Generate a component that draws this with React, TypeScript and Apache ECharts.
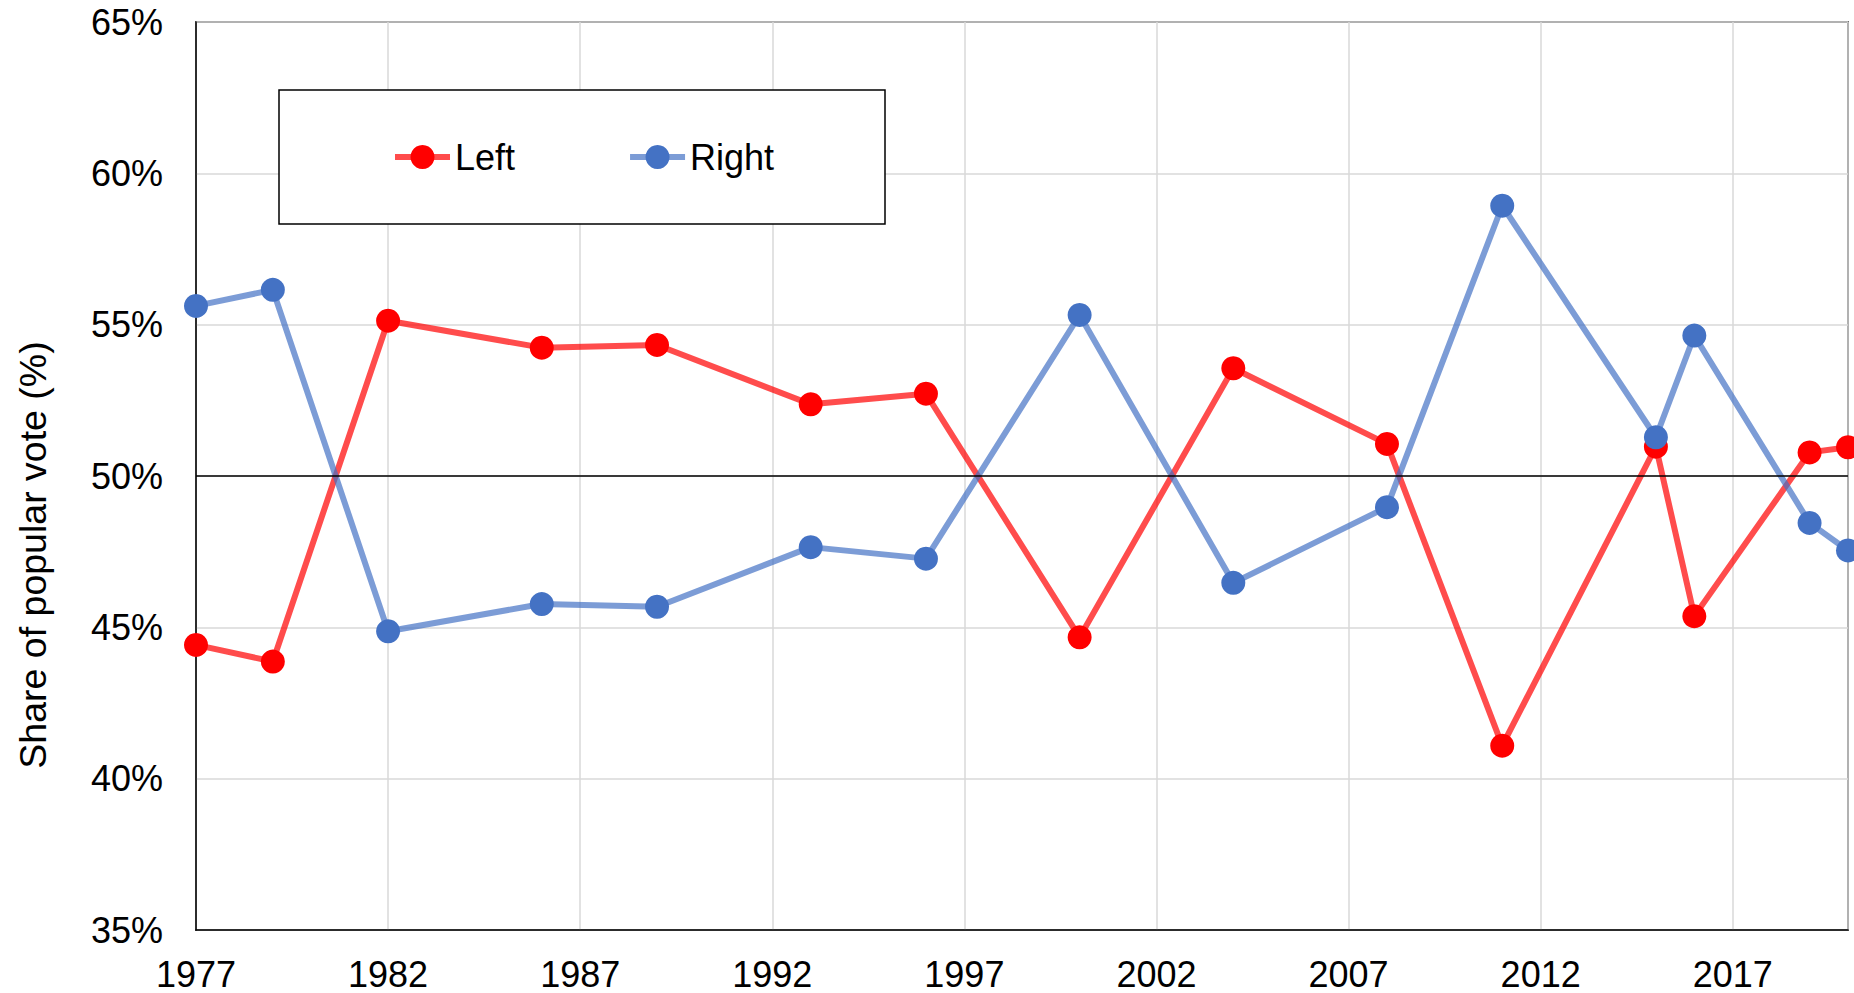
import React, { useEffect, useRef } from "react";
import * as echarts from "echarts";

const years = [1977, 1979, 1982, 1986, 1989, 1993, 1996, 2000, 2004, 2008, 2011, 2015, 2016, 2019, 2020];
const leftShare = [44.42, 43.87, 55.13, 54.24, 54.33, 52.37, 52.72, 44.67, 53.56, 51.06, 41.09, 50.97, 45.37, 50.78, 50.95];
const rightShare = [55.62, 56.15, 44.87, 45.77, 45.68, 47.65, 47.27, 55.32, 46.47, 48.97, 58.93, 51.28, 54.64, 48.45, 47.54];
const seriesNames = ["Left", "Right"];
const FIRST_YEAR = 1977;
const LAST_YEAR = 2020;
const YEAR_STEP = 5;
const Y_MIN = 35;
const Y_MAX = 65;
const Y_STEP = 5;
const yTitle = "Share of popular vote (%)";

const FONT = 'Arial, "Liberation Sans", sans-serif';

export default function App() {
  const ref = useRef<HTMLDivElement>(null);
  useEffect(() => {
    if (!ref.current) return;
    const chart = echarts.init(ref.current, null, { renderer: "svg" });
    const toPoint = (arr: number[]) => years.map((y, i) => [y - FIRST_YEAR, arr[i]]);
    chart.setOption({
      animation: false,
      backgroundColor: "#ffffff",
      textStyle: { fontFamily: FONT },
      grid: {
        left: 196,
        right: 6,
        top: 22,
        bottom: 63,
        show: true,
        borderColor: "#000000",
        borderWidth: 1.5,
        containLabel: false,
        outerBoundsMode: "none",
      },
      xAxis: {
        type: "value",
        min: 0,
        max: LAST_YEAR - FIRST_YEAR,
        interval: YEAR_STEP,
        axisLine: { show: true, lineStyle: { color: "#000000", width: 1.5 } },
        axisTick: { show: false },
        axisLabel: {
          fontSize: 36,
          fontFamily: FONT,
          color: "#000000",
          margin: 26,
          formatter: (v: number) => (v % YEAR_STEP === 0 ? String(v + FIRST_YEAR) : ""),
        },
        splitLine: { show: true, lineStyle: { color: "#d9d9d9", width: 1.5 } },
      },
      yAxis: {
        type: "value",
        min: Y_MIN,
        max: Y_MAX,
        interval: Y_STEP,
        axisLine: { show: true, lineStyle: { color: "#000000", width: 1.5 } },
        axisTick: { show: false },
        axisLabel: {
          fontSize: 36,
          fontFamily: FONT,
          color: "#000000",
          margin: 33,
          formatter: "{value}%",
        },
        splitLine: { show: true, lineStyle: { color: "#d9d9d9", width: 1.5 } },
      },
      legend: {
        data: seriesNames,
        left: 392,
        top: 139,
        padding: 0,
        itemWidth: 55,
        itemHeight: 30,
        itemGap: 112,
        lineStyle: { width: 6 },
        textStyle: { fontSize: 36, fontFamily: FONT, color: "#000000" },
        z: 6,
      },
      graphic: [
        {
          type: "rect",
          z: 5,
          shape: { x: 279, y: 90, width: 606, height: 134 },
          style: { fill: "#ffffff", stroke: "#000000", lineWidth: 1.5 },
        },
        {
          type: "text",
          x: 33,
          y: 555,
          rotation: Math.PI / 2,
          style: {
            text: yTitle,
            font: `37.5px ${FONT}`,
            fill: "#000000",
            align: "center",
            verticalAlign: "middle",
          },
        },
      ],
      series: [
        {
          name: seriesNames[0],
          type: "line",
          data: toPoint(leftShare),
          symbol: "circle",
          symbolSize: 24,
          clip: false,
          itemStyle: { color: "#FF0000" },
          lineStyle: { color: "#FF0000", opacity: 0.7, width: 6 },
          markLine: {
            silent: true,
            symbol: "none",
            label: { show: false },
            lineStyle: { color: "#000000", width: 1.5, type: "solid", opacity: 1 },
            data: [{ yAxis: 50 }],
          },
        },
        {
          name: seriesNames[1],
          type: "line",
          data: toPoint(rightShare),
          symbol: "circle",
          symbolSize: 24,
          clip: false,
          itemStyle: { color: "#4472C4" },
          lineStyle: { color: "#4472C4", opacity: 0.7, width: 6 },
        },
      ],
    });
    return () => chart.dispose();
  }, []);
  return (
    <div
      ref={ref}
      style={{ position: "fixed", left: 0, top: 0, width: 1854, height: 993 }}
    />
  );
}
